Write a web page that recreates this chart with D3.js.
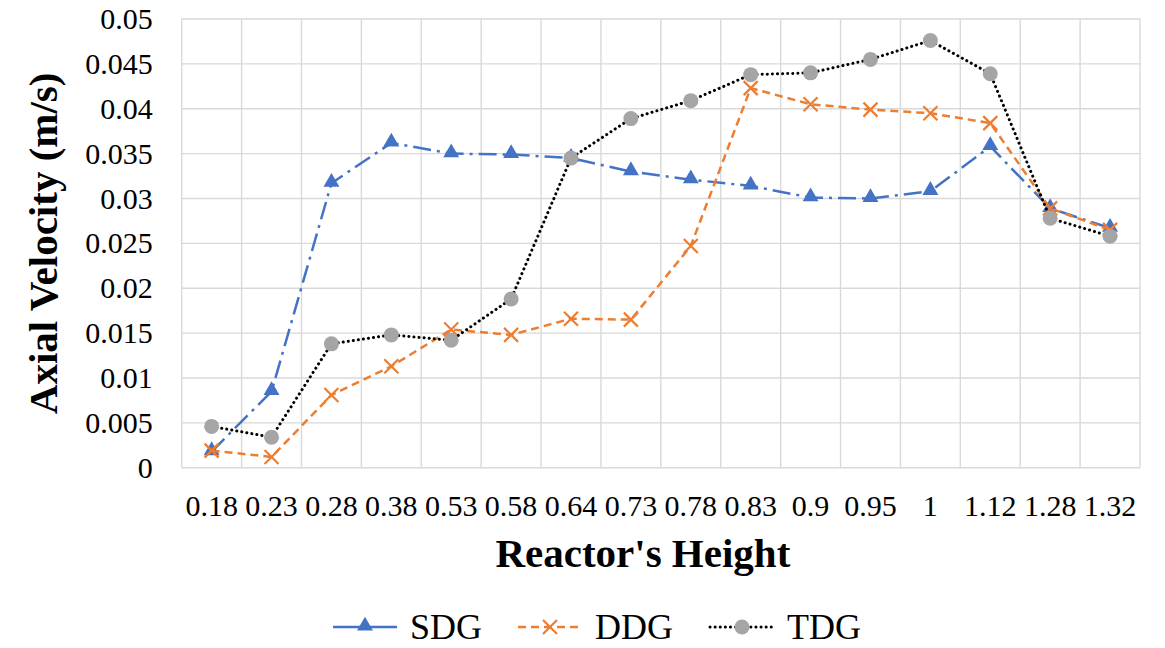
<!DOCTYPE html>
<html>
<head>
<meta charset="utf-8">
<script src="https://cdn.jsdelivr.net/npm/d3@7"></script>
<style>
  body { margin: 0; background: #fff; }
  svg { display: block; }
  svg text { font-family: "Liberation Serif", "Times New Roman", Tinos, "DejaVu Serif", serif; }
</style>
</head>
<body>
<svg id="canvas" width="1165" height="648"></svg>
<script>
'use strict';

// categories on the x axis (reactor height)
var heights = ['0.18', '0.23', '0.28', '0.38', '0.53', '0.58', '0.64', '0.73',
  '0.78', '0.83', '0.9', '0.95', '1', '1.12', '1.28', '1.32'];

// axial velocity (m/s) per series
var sdg = [0.0018, 0.0085, 0.0317, 0.0362, 0.0350, 0.0349, 0.0345, 0.0330,
  0.0321, 0.0314, 0.0301, 0.0300, 0.0308, 0.0358, 0.0289, 0.0267];
var ddg = [0.0019, 0.0012, 0.0081, 0.0113, 0.0154, 0.0148, 0.0166, 0.0165,
  0.0247, 0.0423, 0.0405, 0.0399, 0.0395, 0.0384, 0.0289, 0.0265];
var tdg = [0.0046, 0.0034, 0.0138, 0.0148, 0.0142, 0.0188, 0.0345, 0.0389,
  0.0409, 0.0438, 0.0440, 0.0455, 0.0476, 0.0439, 0.0278, 0.0258];

var yTicks = [0, 0.005, 0.01, 0.015, 0.02, 0.025, 0.03, 0.035, 0.04, 0.045, 0.05];

var seriesNames = ['SDG', 'DDG', 'TDG'];

// plot area
var plot = {left: 181.7, right: 1140, top: 19, bottom: 467.7};

var svg = d3.select('svg#canvas');

var x = d3.scaleBand()
  .domain(heights)
  .range([plot.left, plot.right])
  .padding(0);

var y = d3.scaleLinear()
  .domain([0, 0.05])
  .range([plot.bottom, plot.top]);

/* gridlines */
var grid = svg.append('g').attr('id', 'grid');
grid.selectAll('line.h')
  .data(yTicks)
  .enter().append('line')
    .attr('x1', plot.left).attr('x2', plot.right)
    .attr('y1', function(d){ return y(d); })
    .attr('y2', function(d){ return y(d); })
    .attr('stroke', '#d9d9d9').attr('stroke-width', 1.4);

var bounds = heights.map(function(h){ return x(h); }).concat([plot.right]);
grid.selectAll('line.v')
  .data(bounds)
  .enter().append('line')
    .attr('x1', function(d){ return d; }).attr('x2', function(d){ return d; })
    .attr('y1', plot.top).attr('y2', plot.bottom)
    .attr('stroke', '#d9d9d9').attr('stroke-width', 1.4);

/* axes */
var yAxis = d3.axisLeft(y).tickValues(yTicks).tickSize(0).tickPadding(0)
  .tickFormat(function(d){ return String(+d.toFixed(3)); });
var gy = svg.append('g')
  .attr('transform', 'translate(' + (plot.left - 29) + ',0)')
  .call(yAxis)
  .attr('font-family', null);
gy.select('.domain').remove();
gy.selectAll('text')
  .attr('font-size', 30).attr('fill', '#000');

var xAxis = d3.axisBottom(x).tickSize(0).tickPadding(0);
var gx = svg.append('g')
  .attr('transform', 'translate(0,' + (plot.bottom + 27) + ')')
  .call(xAxis)
  .attr('font-family', null);
gx.select('.domain').remove();
gx.selectAll('text')
  .attr('font-size', 30).attr('fill', '#000');

/* titles */
svg.append('text')
  .attr('transform', 'translate(57,' + ((plot.top + plot.bottom) / 2) + ') rotate(-90)')
  .attr('text-anchor', 'middle')
  .attr('font-size', 41).attr('font-weight', 'bold')
  .text('Axial Velocity (m/s)');

svg.append('text')
  .attr('x', (plot.left + plot.right) / 2 - 18).attr('y', 567)
  .attr('text-anchor', 'middle')
  .attr('font-size', 41).attr('font-weight', 'bold')
  .text("Reactor's Height");

/* series */
var styles = {
  SDG: {color: '#4472c4', dash: '18,6,3,6', width: 2.5, cap: 'butt'},
  DDG: {color: '#ed7d31', dash: '8,5', width: 2.5, cap: 'butt'},
  TDG: {color: '#000000', dash: '0.1,5', width: 3, cap: 'round'}
};
var values = {SDG: sdg, DDG: ddg, TDG: tdg};

var line = d3.line()
  .x(function(d, i){ return x(heights[i]) + x.bandwidth() / 2; })
  .y(function(d){ return y(d); });

function drawMarker(g, name, cx, cy){
  if (name === 'SDG') {
    g.append('path')
      .attr('d', d3.symbol().type(d3.symbolTriangle).size(110)())
      .attr('transform', 'translate(' + cx + ',' + (cy - 1) + ')')
      .attr('fill', '#4472c4');
  } else if (name === 'DDG') {
    var s = 7;
    g.append('path')
      .attr('d', 'M' + (cx - s) + ',' + (cy - s) + 'L' + (cx + s) + ',' + (cy + s) +
        'M' + (cx - s) + ',' + (cy + s) + 'L' + (cx + s) + ',' + (cy - s))
      .attr('stroke', '#ed7d31').attr('stroke-width', 2.2).attr('fill', 'none');
  } else {
    g.append('circle')
      .attr('cx', cx).attr('cy', cy).attr('r', 7.5)
      .attr('fill', '#a5a5a5');
  }
}

seriesNames.forEach(function(name){
  var st = styles[name];
  var g = svg.append('g').attr('class', 'series ' + name);
  g.append('path')
    .datum(values[name])
    .attr('d', line)
    .attr('fill', 'none')
    .attr('stroke', st.color)
    .attr('stroke-width', st.width)
    .attr('stroke-dasharray', st.dash)
    .attr('stroke-linecap', st.cap);
  values[name].forEach(function(v, i){
    drawMarker(g, name, x(heights[i]) + x.bandwidth() / 2, y(v));
  });
});

/* legend */
var legendX = [333, 518, 710];
var legendDash = {SDG: null, DDG: '8,5', TDG: '0.1,5'};
var lg = svg.append('g').attr('id', 'legend');
seriesNames.forEach(function(name, i){
  var st = styles[name];
  var x0 = legendX[i], yc = 627;
  lg.append('line')
    .attr('x1', x0).attr('x2', x0 + 64)
    .attr('y1', yc).attr('y2', yc)
    .attr('stroke', st.color).attr('stroke-width', st.width)
    .attr('stroke-dasharray', legendDash[name])
    .attr('stroke-linecap', st.cap);
  drawMarker(lg, name, x0 + 32, yc);
  lg.append('text')
    .attr('x', x0 + 77).attr('y', yc + 12)
    .attr('font-size', 36)
    .text(name);
});
</script>
</body>
</html>
